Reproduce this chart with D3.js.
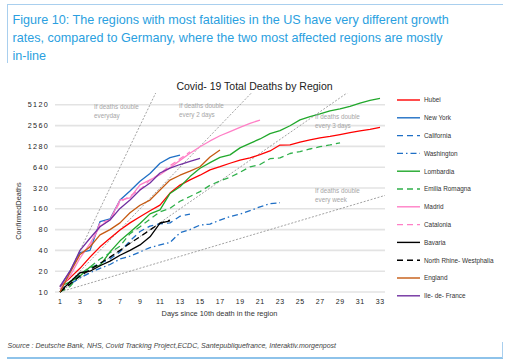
<!DOCTYPE html>
<html><head><meta charset="utf-8">
<script src="https://cdn.jsdelivr.net/npm/d3@7"></script>
<style>
body{margin:0;background:#fff;}
svg{display:block;font-family:"Liberation Sans",Arial,sans-serif;}
</style></head>
<body><svg id="c" width="512" height="362"></svg>
<script>
// ---- data (day 1 = first day with >=10 deaths)
const xTicks = [1,3,5,7,9,11,13,15,17,19,21,23,25,27,29,31,33];
const yTicks = [10,20,40,80,160,320,640,1280,2560,5120];
const hubei = [12,16,22,32,45,60,79,100,123,150,181,270,353,420,490,584,650,730,812,870,970,1100,1340,1350,1480,1590,1700,1790,1900,2020,2140,2250,2420];
const newYork = [12,20,37,40,104,114,214,290,400,520,729,880,960];
const california = [10,14,18,22,26,30,38,55,75,90,97,100,125,134];
const washington = [11,13,16,19,22,25,30,33,38,44,48,52,72,80,93,96,110,123,134,150,171,190,196];
const lombardia = [12,14,17,23,24,38,55,73,98,135,154,267,333,468,617,744,890,966,1218,1420,1640,1959,2168,2549,3095,3456,3776,4178,4474,4861,5402,5944,6360];
const emilia = [10,12,18,23,30,37,46,70,88,113,145,163,206,241,284,350,406,457,541,648,699,849,873,1010,1077,1174,1267,1344,1443];
const madrid = [11,17,31,50,90,110,214,230,355,420,498,628,804,1021,1263,1535,1825,2090,2412,2757,3082];
const catalonia = [12,20,35,45,100,110,200,245,302,416,516,672,847,1070];
const bavaria = [10,14,19,20,24,28,34,40,48,63,99,107];
const nrw = [10,13,17,21,26,32,40,51,63,79,99,110];
const england = [10,19,35,45,67,80,100,140,180,214,300,417,490,560,650,900,1135];
const ileDeFrance = [12,20,40,60,88,110,162,214,300,378,528,620,700,780,860];
const seriesNames = ["Hubei","New York","California","Washington","Lombardia","Emilia Romagna","Madrid","Catalonia","Bavaria","North Rhine- Westphalia","England","Ile- de- France"];
const seriesValues = [hubei,newYork,california,washington,lombardia,emilia,madrid,catalonia,bavaria,nrw,england,ileDeFrance];
const seriesColors = ["#ff0000","#1f6fc5","#1f6fc5","#1f6fc5","#21a82b","#2fb04a","#ff7fc6","#ff7fc6","#000000","#000000","#c55a11","#7030a0"];
const seriesDash = [null,null,"6,4","6,3,1.5,3",null,"6,4",null,"6,4",null,"6,4",null,null];
const doublingDays = [1,2,3,7];
const doublingLabels = [["If deaths double","everyday"],["If deaths double","every 2 days"],["If deaths double","every 3 days"],["If deaths double","every week"]];
const doublingLabelPos = [[94,109],[179,108],[315,119],[315,193]];

// ---- layout
const svg = d3.select("#c");
const x = d3.scaleLinear().domain([0.5,33.5]).range([55,385]);
const y = d3.scaleLog().base(2).domain([10,5120]).range([292,104.8]);
const plotTop = 93;

// frame lines
svg.append("line").attr("x1",7).attr("x2",503).attr("y1",4.5).attr("y2",4.5).attr("stroke","#a9cfee").attr("stroke-width",1);
svg.append("line").attr("x1",7.5).attr("x2",7.5).attr("y1",4).attr("y2",63).attr("stroke","#a9cfee").attr("stroke-width",1);
svg.append("line").attr("x1",7).attr("x2",503).attr("y1",358).attr("y2",358).attr("stroke","#1f88d6").attr("stroke-width",1.2);
svg.append("line").attr("x1",502.5).attr("x2",502.5).attr("y1",342).attr("y2",358).attr("stroke","#a9cfee").attr("stroke-width",1);

// figure title
const titleLines = ["Figure 10: The regions with most fatalities in the US have very different growth","rates, compared to Germany, where the two most affected regions are mostly","in-line"];
svg.append("g").selectAll("text").data(titleLines).join("text")
  .attr("x",12.5).attr("y",(d,i)=>23.5+i*18)
  .attr("fill","#2b9fe0").attr("font-size",12.6).text(d=>d);

// chart title
svg.append("text").attr("x",254.5).attr("y",90).attr("text-anchor","middle")
  .attr("font-size",10.5).attr("fill","#222").text("Covid- 19 Total Deaths by Region");

// gridlines
svg.append("g").selectAll("line").data(yTicks).join("line")
  .attr("x1",55).attr("x2",385).attr("y1",d=>y(d)).attr("y2",d=>y(d))
  .attr("stroke","#e3e3e3").attr("stroke-width",1.6);

// y tick labels
svg.append("g").selectAll("text").data(yTicks).join("text")
  .attr("x",49).attr("y",d=>y(d)+2.6).attr("text-anchor","end")
  .attr("font-size",7.2).attr("letter-spacing",1.3).attr("fill","#222").text(d=>d);

// x tick labels
svg.append("g").selectAll("text").data(xTicks).join("text")
  .attr("x",d=>x(d)+0.3).attr("y",303.5).attr("text-anchor","middle")
  .attr("font-size",7).attr("letter-spacing",0.6).attr("fill","#222").text(d=>d);

// axis titles
svg.append("text").attr("x",219.5).attr("y",316).attr("text-anchor","middle")
  .attr("font-size",7.4).attr("fill","#333").text("Days since 10th death in the region");
svg.append("text").attr("transform","translate(21,211) rotate(-90)").attr("text-anchor","middle")
  .attr("font-size",7.4).attr("fill","#333").text("ConfirmedDeaths");

// clip
svg.append("clipPath").attr("id","clip").append("rect")
  .attr("x",55).attr("y",plotTop).attr("width",330).attr("height",292-plotTop+4);
const plot = svg.append("g").attr("clip-path","url(#clip)");

// doubling reference lines
plot.selectAll("line.ref").data(doublingDays).join("line").attr("class","ref")
  .attr("x1",x(1)).attr("y1",y(10))
  .attr("x2",x(33.5)).attr("y2",d=>y(10*Math.pow(2,32.5/d)))
  .attr("stroke","#8a8a8a").attr("stroke-width",0.8).attr("stroke-dasharray","2,1.6");

// doubling labels
doublingLabels.forEach((lines,i)=>{
  svg.append("g").selectAll("text").data(lines).join("text")
    .attr("x",doublingLabelPos[i][0]).attr("y",(d,j)=>doublingLabelPos[i][1]+j*8.5)
    .attr("font-size",6.3).attr("fill","#a6a6a6").text(d=>d);
});

// series lines
const line = d3.line().x((d,i)=>x(i+1)).y(d=>y(d));
plot.selectAll("path.s").data(seriesValues).join("path").attr("class","s")
  .attr("d",d=>line(d)).attr("fill","none")
  .attr("stroke",(d,i)=>seriesColors[i]).attr("stroke-width",1.3)
  .attr("stroke-dasharray",(d,i)=>seriesDash[i]).attr("stroke-linejoin","round");

// legend
const lg = svg.append("g").selectAll("g").data(seriesNames).join("g")
  .attr("transform",(d,i)=>`translate(0,${100+i*17.8})`);
lg.append("line").attr("x1",397).attr("x2",420).attr("y1",0).attr("y2",0)
  .attr("stroke",(d,i)=>seriesColors[i]).attr("stroke-width",1.4)
  .attr("stroke-dasharray",(d,i)=>seriesDash[i]);
lg.append("text").attr("x",424).attr("y",2.3).attr("font-size",6.4).attr("fill","#333").text(d=>d);

// source
svg.append("text").attr("x",7.5).attr("y",348).attr("font-size",7).attr("font-style","italic")
  .attr("fill","#444").text("Source : Deutsche Bank, NHS, Covid Tracking Project,ECDC, Santepubliquefrance, Interaktiv.morgenpost");
</script></body></html>
